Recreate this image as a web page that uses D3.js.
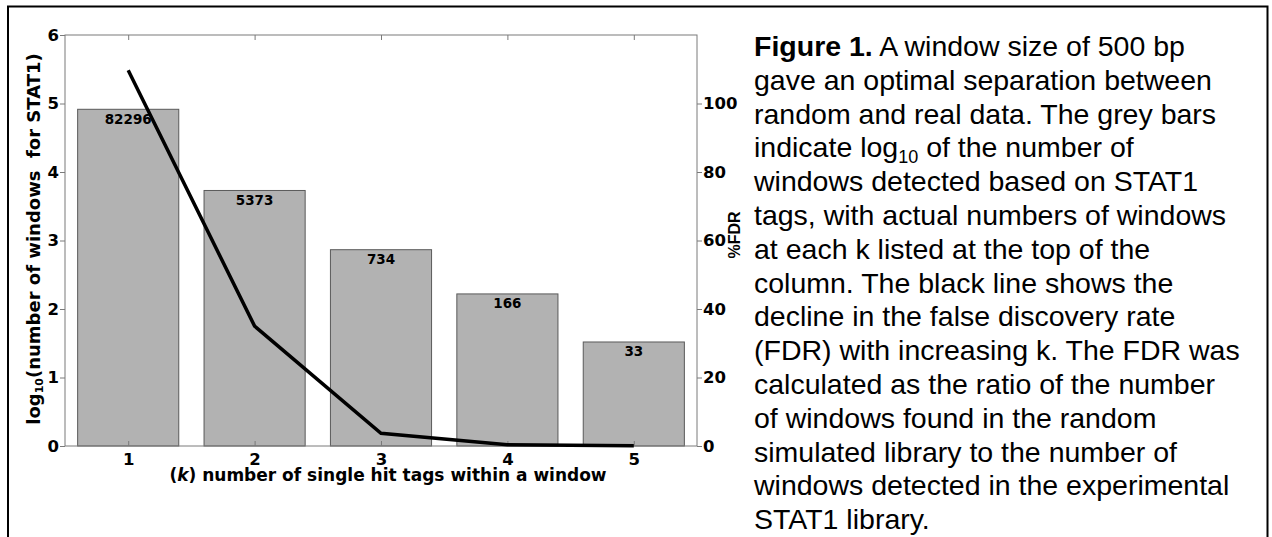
<!DOCTYPE html>
<html>
<head>
<meta charset="utf-8">
<script src="https://cdn.jsdelivr.net/npm/d3@7"></script>
<style>
  body { margin: 0; background: #fff; }
  svg { display: block; }
  text { font-family: "Liberation Sans", Arial, Helvetica, sans-serif; }
  .chart-text { font-family: "DejaVu Sans", Verdana, sans-serif; font-weight: bold; }
</style>
</head>
<body>
<div id="chart"></div>
<script>
// data
const kValues = [1, 2, 3, 4, 5];
const windowCounts = [82296, 5373, 734, 166, 33];
const fdrPercent = [109.7, 35.0, 3.7, 0.4, 0.1];
const leftTicks = [0, 1, 2, 3, 4, 5, 6];
const rightTicks = [0, 20, 40, 60, 80, 100];

const captionLines = [
  [{ t: "Figure 1.", b: true }, { t: " A window size of 500 bp" }],
  [{ t: "gave an optimal separation between" }],
  [{ t: "random and real data. The grey bars" }],
  [{ t: "indicate log" }, { t: "10", sub: true }, { t: " of the number of" }],
  [{ t: "windows detected based on STAT1" }],
  [{ t: "tags, with actual numbers of windows" }],
  [{ t: "at each k listed at the top of the" }],
  [{ t: "column. The black line shows the" }],
  [{ t: "decline in the false discovery rate" }],
  [{ t: "(FDR) with increasing k. The FDR was" }],
  [{ t: "calculated as the ratio of the number" }],
  [{ t: "of windows found in the random" }],
  [{ t: "simulated library to the number of" }],
  [{ t: "windows detected in the experimental" }],
  [{ t: "STAT1 library." }],
];

const config = {
  width: 1272,
  height: 537,
  margin: { top: 35, right: 575, bottom: 91, left: 65 },
};

const svg = d3
  .select("#chart")
  .append("svg")
  .attr("width", config.width)
  .attr("height", config.height);

// outer frame (open at the bottom)
svg
  .append("path")
  .attr("d", "M8,540 V6.5 H1267.5 V540")
  .attr("fill", "none")
  .attr("stroke", "#000")
  .attr("stroke-width", 2);

const innerW = config.width - config.margin.left - config.margin.right;
const innerH = config.height - config.margin.top - config.margin.bottom;

const g = svg
  .append("g")
  .attr("transform", `translate(${config.margin.left},${config.margin.top})`);

// scales
const x = d3.scaleLinear().domain([0.5, 5.5]).range([0, innerW]);
const yLeft = d3.scaleLinear().domain([0, 6]).range([innerH, 0]);
const yRight = d3.scaleLinear().domain([0, 120]).range([innerH, 0]);
const barWidth = 0.8;

// bars (height = log10 of the window count)
g.selectAll(".bar")
  .data(kValues)
  .join("rect")
  .attr("class", "bar")
  .attr("x", (d) => x(d - barWidth / 2))
  .attr("width", (d) => x(barWidth) - x(0))
  .attr("y", (d, i) => yLeft(Math.log10(windowCounts[i])))
  .attr("height", (d, i) => innerH - yLeft(Math.log10(windowCounts[i])))
  .attr("fill", "#b2b2b2")
  .attr("stroke", "#5a5a5a")
  .attr("stroke-width", 1);

// count labels at the top of each bar
g.selectAll(".bar-label")
  .data(kValues)
  .join("text")
  .attr("class", "bar-label chart-text")
  .attr("x", (d) => x(d))
  .attr("y", (d, i) => yLeft(Math.log10(windowCounts[i])) + 14.5)
  .attr("text-anchor", "middle")
  .attr("font-size", 13.5)
  .text((d, i) => windowCounts[i]);

// axes box
g.append("rect")
  .attr("width", innerW)
  .attr("height", innerH)
  .attr("fill", "none")
  .attr("stroke", "#7a7a7a")
  .attr("stroke-width", 1);

const styleAxis = (sel) => {
  sel.select(".domain").remove();
  sel.selectAll(".tick line").attr("stroke", "#7a7a7a");
  sel
    .selectAll(".tick text")
    .attr("class", "chart-text")
    .attr("font-size", 16.5)
    .attr("fill", "#000");
};

g.append("g")
  .call(
    d3.axisLeft(yLeft).tickValues(leftTicks).tickSize(5).tickPadding(1).tickFormat(d3.format("d"))
  )
  .call(styleAxis);

g.append("g")
  .attr("transform", `translate(${innerW},0)`)
  .call(
    d3.axisRight(yRight).tickValues(rightTicks).tickSize(5).tickPadding(1).tickFormat(d3.format("d"))
  )
  .call(styleAxis);

g.append("g")
  .attr("transform", `translate(0,${innerH})`)
  .call(
    d3.axisBottom(x).tickValues(kValues).tickSize(-5).tickPadding(7).tickFormat(d3.format("d"))
  )
  .call(styleAxis);

g.append("g")
  .call(d3.axisTop(x).tickValues(kValues).tickSize(-5).tickFormat(""))
  .call(styleAxis);

// FDR line
const line = d3
  .line()
  .x((d, i) => x(kValues[i]))
  .y((d) => yRight(d));

g.append("path")
  .datum(fdrPercent)
  .attr("d", line)
  .attr("fill", "none")
  .attr("stroke", "#000")
  .attr("stroke-width", 3.5)
  .attr("stroke-linejoin", "miter");

// axis titles
g.append("text")
  .attr("class", "chart-text")
  .attr("x", innerW / 2 + 7)
  .attr("y", innerH + 35)
  .attr("text-anchor", "middle")
  .attr("font-size", 17)
  .call((t) => {
    t.append("tspan").text("(");
    t.append("tspan").attr("font-style", "italic").text("k");
    t.append("tspan").text(") number of single hit tags within a window");
  });

const yTitle = g
  .append("text")
  .attr("class", "chart-text")
  .attr("transform", `translate(-25,${innerH / 2 - 1.5}) rotate(-90)`)
  .attr("text-anchor", "middle")
  .attr("font-size", 18)
  .style("white-space", "pre");
yTitle.append("tspan").text("log");
yTitle.append("tspan").attr("font-size", 11).attr("dy", 3).text("10");
yTitle.append("tspan").attr("dy", -3).text("(number of windows  for STAT1)");

g.append("text")
  .attr("transform", `translate(${innerW + 43},${innerH / 2 - 5.5}) rotate(-90)`)
  .attr("text-anchor", "middle")
  .attr("font-size", 16)
  .attr("font-weight", "bold")
  .text("%FDR");

// caption
const caption = svg
  .append("text")
  .attr("font-size", 28.5)
  .attr("fill", "#000");

captionLines.forEach((parts, li) => {
  parts.forEach((p, pi) => {
    const ts = caption.append("tspan").style("white-space", "pre").text(p.t);
    if (pi === 0) ts.attr("x", 754).attr("y", 56 + li * 33.8);
    if (p.b) ts.attr("font-weight", "bold");
    if (p.sub) ts.attr("font-size", 18).attr("dy", 6);
    if (pi > 0 && parts[pi - 1].sub) ts.attr("dy", -6);
  });
});
</script>
</body>
</html>
